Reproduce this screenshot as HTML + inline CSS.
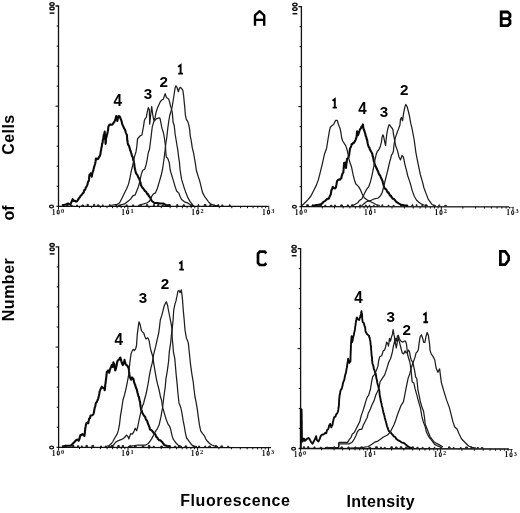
<!DOCTYPE html>
<html><head><meta charset="utf-8"><style>
html,body{margin:0;padding:0;background:#fff;}
body{width:520px;height:513px;overflow:hidden;position:relative;}
svg{position:absolute;left:0;top:0;will-change:transform;}
.tl{font-family:"Liberation Serif",serif;font-weight:bold;font-size:7.5px;fill:#111;}
.sup{font-family:"Liberation Serif",serif;font-weight:bold;font-size:6.3px;fill:#111;}
.nl{font-family:"Liberation Sans",sans-serif;font-weight:bold;font-size:13.6px;fill:#000;}
.big{font-family:"Liberation Sans",sans-serif;font-weight:bold;font-size:16px;fill:#000;}
</style></head><body>
<svg width="520" height="513" viewBox="0 0 520 513">
<rect width="520" height="513" fill="#fff"/>
<path d="M55.5,6.0 H58.5 V206.3" stroke="#111" stroke-width="1.3" fill="none"/>
<path d="M56.7,26.0 H58.5" stroke="#111" stroke-width="1.1"/>
<path d="M56.7,46.1 H58.5" stroke="#111" stroke-width="1.1"/>
<path d="M56.7,66.1 H58.5" stroke="#111" stroke-width="1.1"/>
<path d="M56.7,86.1 H58.5" stroke="#111" stroke-width="1.1"/>
<path d="M55.5,106.2 H58.5" stroke="#111" stroke-width="1.1"/>
<path d="M56.7,126.2 H58.5" stroke="#111" stroke-width="1.1"/>
<path d="M56.7,146.2 H58.5" stroke="#111" stroke-width="1.1"/>
<path d="M56.7,166.2 H58.5" stroke="#111" stroke-width="1.1"/>
<path d="M56.7,186.3 H58.5" stroke="#111" stroke-width="1.1"/>
<path d="M56.5,206.3 L268.8,206.4" stroke="#111" stroke-width="1.3" fill="none"/>
<path d="M79.4,206.3 v1.8" stroke="#111" stroke-width="1"/>
<path d="M91.6,206.3 v1.8" stroke="#111" stroke-width="1"/>
<path d="M100.3,206.3 v1.8" stroke="#111" stroke-width="1"/>
<path d="M107.0,206.3 v1.8" stroke="#111" stroke-width="1"/>
<path d="M112.5,206.3 v1.8" stroke="#111" stroke-width="1"/>
<path d="M117.1,206.3 v1.8" stroke="#111" stroke-width="1"/>
<path d="M121.2,206.3 v1.8" stroke="#111" stroke-width="1"/>
<path d="M124.7,206.3 v1.8" stroke="#111" stroke-width="1"/>
<path d="M149.0,206.3 v1.8" stroke="#111" stroke-width="1"/>
<path d="M161.3,206.3 v1.8" stroke="#111" stroke-width="1"/>
<path d="M170.1,206.4 v1.8" stroke="#111" stroke-width="1"/>
<path d="M176.9,206.4 v1.8" stroke="#111" stroke-width="1"/>
<path d="M182.4,206.4 v1.8" stroke="#111" stroke-width="1"/>
<path d="M187.1,206.4 v1.8" stroke="#111" stroke-width="1"/>
<path d="M191.2,206.4 v1.8" stroke="#111" stroke-width="1"/>
<path d="M194.8,206.4 v1.8" stroke="#111" stroke-width="1"/>
<path d="M219.3,206.4 v1.8" stroke="#111" stroke-width="1"/>
<path d="M231.8,206.4 v1.8" stroke="#111" stroke-width="1"/>
<path d="M240.6,206.4 v1.8" stroke="#111" stroke-width="1"/>
<path d="M247.5,206.4 v1.8" stroke="#111" stroke-width="1"/>
<path d="M253.1,206.4 v1.8" stroke="#111" stroke-width="1"/>
<path d="M257.8,206.4 v1.8" stroke="#111" stroke-width="1"/>
<path d="M261.9,206.4 v1.8" stroke="#111" stroke-width="1"/>
<path d="M265.6,206.4 v1.8" stroke="#111" stroke-width="1"/>
<path d="M58.5,206.3 v3.2" stroke="#111" stroke-width="1"/>
<text x="53.6" y="214.5" class="tl" text-anchor="middle">1</text>
<ellipse cx="58.2" cy="212.0" rx="1.1" ry="2.0" stroke="#111" stroke-width="1.1" fill="none"/>
<text x="62.6" y="212.8" class="sup" text-anchor="middle">0</text>
<path d="M127.9,206.3 v3.2" stroke="#111" stroke-width="1"/>
<text x="123.0" y="214.5" class="tl" text-anchor="middle">1</text>
<ellipse cx="127.6" cy="212.0" rx="1.1" ry="2.0" stroke="#111" stroke-width="1.1" fill="none"/>
<text x="132.0" y="212.8" class="sup" text-anchor="middle">1</text>
<path d="M198.0,206.4 v3.2" stroke="#111" stroke-width="1"/>
<text x="193.1" y="214.6" class="tl" text-anchor="middle">1</text>
<ellipse cx="197.7" cy="212.1" rx="1.1" ry="2.0" stroke="#111" stroke-width="1.1" fill="none"/>
<text x="202.1" y="212.9" class="sup" text-anchor="middle">2</text>
<path d="M268.8,206.4 v3.2" stroke="#111" stroke-width="1"/>
<text x="263.9" y="214.6" class="tl" text-anchor="middle">1</text>
<ellipse cx="268.5" cy="212.1" rx="1.1" ry="2.0" stroke="#111" stroke-width="1.1" fill="none"/>
<text x="272.9" y="212.9" class="sup" text-anchor="middle">3</text>
<ellipse cx="52.0" cy="4.0" rx="2.15" ry="1.4" stroke="#111" stroke-width="1.35" fill="none"/>
<ellipse cx="52.0" cy="8.4" rx="2.15" ry="1.4" stroke="#111" stroke-width="1.35" fill="none"/>
<path d="M49.6,13.1 H54.4" stroke="#111" stroke-width="1.5"/>
<ellipse cx="51.5" cy="206.5" rx="1.95" ry="1.35" stroke="#111" stroke-width="1.3" fill="none"/>
<path d="M298.4,6.6 H301.4 V206.6" stroke="#111" stroke-width="1.3" fill="none"/>
<path d="M299.6,26.6 H301.4" stroke="#111" stroke-width="1.1"/>
<path d="M299.6,46.6 H301.4" stroke="#111" stroke-width="1.1"/>
<path d="M299.6,66.6 H301.4" stroke="#111" stroke-width="1.1"/>
<path d="M299.6,86.6 H301.4" stroke="#111" stroke-width="1.1"/>
<path d="M298.4,106.6 H301.4" stroke="#111" stroke-width="1.1"/>
<path d="M299.6,126.6 H301.4" stroke="#111" stroke-width="1.1"/>
<path d="M299.6,146.6 H301.4" stroke="#111" stroke-width="1.1"/>
<path d="M299.6,166.6 H301.4" stroke="#111" stroke-width="1.1"/>
<path d="M299.6,186.6 H301.4" stroke="#111" stroke-width="1.1"/>
<path d="M299.4,206.6 L513.5,206.8" stroke="#111" stroke-width="1.3" fill="none"/>
<path d="M322.3,206.6 v1.8" stroke="#111" stroke-width="1"/>
<path d="M334.5,206.6 v1.8" stroke="#111" stroke-width="1"/>
<path d="M343.2,206.6 v1.8" stroke="#111" stroke-width="1"/>
<path d="M349.9,206.6 v1.8" stroke="#111" stroke-width="1"/>
<path d="M355.4,206.7 v1.8" stroke="#111" stroke-width="1"/>
<path d="M360.0,206.7 v1.8" stroke="#111" stroke-width="1"/>
<path d="M364.1,206.7 v1.8" stroke="#111" stroke-width="1"/>
<path d="M367.6,206.7 v1.8" stroke="#111" stroke-width="1"/>
<path d="M392.0,206.7 v1.8" stroke="#111" stroke-width="1"/>
<path d="M404.4,206.7 v1.8" stroke="#111" stroke-width="1"/>
<path d="M413.2,206.7 v1.8" stroke="#111" stroke-width="1"/>
<path d="M420.1,206.7 v1.8" stroke="#111" stroke-width="1"/>
<path d="M425.7,206.7 v1.8" stroke="#111" stroke-width="1"/>
<path d="M430.4,206.7 v1.8" stroke="#111" stroke-width="1"/>
<path d="M434.5,206.7 v1.8" stroke="#111" stroke-width="1"/>
<path d="M438.1,206.7 v1.8" stroke="#111" stroke-width="1"/>
<path d="M462.9,206.8 v1.8" stroke="#111" stroke-width="1"/>
<path d="M475.5,206.8 v1.8" stroke="#111" stroke-width="1"/>
<path d="M484.5,206.8 v1.8" stroke="#111" stroke-width="1"/>
<path d="M491.4,206.8 v1.8" stroke="#111" stroke-width="1"/>
<path d="M497.1,206.8 v1.8" stroke="#111" stroke-width="1"/>
<path d="M501.9,206.8 v1.8" stroke="#111" stroke-width="1"/>
<path d="M506.1,206.8 v1.8" stroke="#111" stroke-width="1"/>
<path d="M509.7,206.8 v1.8" stroke="#111" stroke-width="1"/>
<path d="M301.4,206.6 v3.2" stroke="#111" stroke-width="1"/>
<text x="296.5" y="214.8" class="tl" text-anchor="middle">1</text>
<ellipse cx="301.1" cy="212.3" rx="1.1" ry="2.0" stroke="#111" stroke-width="1.1" fill="none"/>
<text x="305.5" y="213.1" class="sup" text-anchor="middle">0</text>
<path d="M370.8,206.7 v3.2" stroke="#111" stroke-width="1"/>
<text x="365.9" y="214.9" class="tl" text-anchor="middle">1</text>
<ellipse cx="370.5" cy="212.4" rx="1.1" ry="2.0" stroke="#111" stroke-width="1.1" fill="none"/>
<text x="374.9" y="213.2" class="sup" text-anchor="middle">1</text>
<path d="M441.3,206.7 v3.2" stroke="#111" stroke-width="1"/>
<text x="436.4" y="214.9" class="tl" text-anchor="middle">1</text>
<ellipse cx="441.0" cy="212.4" rx="1.1" ry="2.0" stroke="#111" stroke-width="1.1" fill="none"/>
<text x="445.4" y="213.2" class="sup" text-anchor="middle">2</text>
<path d="M513.0,206.8 v3.2" stroke="#111" stroke-width="1"/>
<text x="508.1" y="215.0" class="tl" text-anchor="middle">1</text>
<ellipse cx="512.7" cy="212.5" rx="1.1" ry="2.0" stroke="#111" stroke-width="1.1" fill="none"/>
<text x="517.1" y="213.3" class="sup" text-anchor="middle">3</text>
<ellipse cx="294.9" cy="4.6" rx="2.15" ry="1.4" stroke="#111" stroke-width="1.35" fill="none"/>
<ellipse cx="294.9" cy="9.0" rx="2.15" ry="1.4" stroke="#111" stroke-width="1.35" fill="none"/>
<path d="M292.5,13.7 H297.3" stroke="#111" stroke-width="1.5"/>
<ellipse cx="294.4" cy="206.8" rx="1.95" ry="1.35" stroke="#111" stroke-width="1.3" fill="none"/>
<path d="M55.6,246.8 H58.6 V447.3" stroke="#111" stroke-width="1.3" fill="none"/>
<path d="M56.8,266.9 H58.6" stroke="#111" stroke-width="1.1"/>
<path d="M56.8,286.9 H58.6" stroke="#111" stroke-width="1.1"/>
<path d="M56.8,306.9 H58.6" stroke="#111" stroke-width="1.1"/>
<path d="M56.8,327.0 H58.6" stroke="#111" stroke-width="1.1"/>
<path d="M55.6,347.1 H58.6" stroke="#111" stroke-width="1.1"/>
<path d="M56.8,367.1 H58.6" stroke="#111" stroke-width="1.1"/>
<path d="M56.8,387.1 H58.6" stroke="#111" stroke-width="1.1"/>
<path d="M56.8,407.2 H58.6" stroke="#111" stroke-width="1.1"/>
<path d="M56.8,427.2 H58.6" stroke="#111" stroke-width="1.1"/>
<path d="M56.6,447.3 L271.0,447.6" stroke="#111" stroke-width="1.3" fill="none"/>
<path d="M79.5,447.3 v1.8" stroke="#111" stroke-width="1"/>
<path d="M91.7,447.3 v1.8" stroke="#111" stroke-width="1"/>
<path d="M100.4,447.4 v1.8" stroke="#111" stroke-width="1"/>
<path d="M107.1,447.4 v1.8" stroke="#111" stroke-width="1"/>
<path d="M112.6,447.4 v1.8" stroke="#111" stroke-width="1"/>
<path d="M117.2,447.4 v1.8" stroke="#111" stroke-width="1"/>
<path d="M121.3,447.4 v1.8" stroke="#111" stroke-width="1"/>
<path d="M124.8,447.4 v1.8" stroke="#111" stroke-width="1"/>
<path d="M149.0,447.4 v1.8" stroke="#111" stroke-width="1"/>
<path d="M161.2,447.4 v1.8" stroke="#111" stroke-width="1"/>
<path d="M169.9,447.5 v1.8" stroke="#111" stroke-width="1"/>
<path d="M176.6,447.5 v1.8" stroke="#111" stroke-width="1"/>
<path d="M182.2,447.5 v1.8" stroke="#111" stroke-width="1"/>
<path d="M186.8,447.5 v1.8" stroke="#111" stroke-width="1"/>
<path d="M190.9,447.5 v1.8" stroke="#111" stroke-width="1"/>
<path d="M194.4,447.5 v1.8" stroke="#111" stroke-width="1"/>
<path d="M218.9,447.5 v1.8" stroke="#111" stroke-width="1"/>
<path d="M231.4,447.5 v1.8" stroke="#111" stroke-width="1"/>
<path d="M240.3,447.6 v1.8" stroke="#111" stroke-width="1"/>
<path d="M247.2,447.6 v1.8" stroke="#111" stroke-width="1"/>
<path d="M252.8,447.6 v1.8" stroke="#111" stroke-width="1"/>
<path d="M257.5,447.6 v1.8" stroke="#111" stroke-width="1"/>
<path d="M261.6,447.6 v1.8" stroke="#111" stroke-width="1"/>
<path d="M265.3,447.6 v1.8" stroke="#111" stroke-width="1"/>
<path d="M58.6,447.3 v3.2" stroke="#111" stroke-width="1"/>
<text x="53.7" y="455.5" class="tl" text-anchor="middle">1</text>
<ellipse cx="58.3" cy="453.0" rx="1.1" ry="2.0" stroke="#111" stroke-width="1.1" fill="none"/>
<text x="62.7" y="453.8" class="sup" text-anchor="middle">0</text>
<path d="M128.0,447.4 v3.2" stroke="#111" stroke-width="1"/>
<text x="123.1" y="455.6" class="tl" text-anchor="middle">1</text>
<ellipse cx="127.7" cy="453.1" rx="1.1" ry="2.0" stroke="#111" stroke-width="1.1" fill="none"/>
<text x="132.1" y="453.9" class="sup" text-anchor="middle">1</text>
<path d="M197.6,447.5 v3.2" stroke="#111" stroke-width="1"/>
<text x="192.7" y="455.7" class="tl" text-anchor="middle">1</text>
<ellipse cx="197.3" cy="453.2" rx="1.1" ry="2.0" stroke="#111" stroke-width="1.1" fill="none"/>
<text x="201.7" y="454.0" class="sup" text-anchor="middle">2</text>
<path d="M268.5,447.6 v3.2" stroke="#111" stroke-width="1"/>
<text x="263.6" y="455.8" class="tl" text-anchor="middle">1</text>
<ellipse cx="268.2" cy="453.3" rx="1.1" ry="2.0" stroke="#111" stroke-width="1.1" fill="none"/>
<text x="272.6" y="454.1" class="sup" text-anchor="middle">3</text>
<ellipse cx="52.1" cy="244.9" rx="2.15" ry="1.4" stroke="#111" stroke-width="1.35" fill="none"/>
<ellipse cx="52.1" cy="249.2" rx="2.15" ry="1.4" stroke="#111" stroke-width="1.35" fill="none"/>
<path d="M49.7,253.9 H54.5" stroke="#111" stroke-width="1.5"/>
<ellipse cx="51.6" cy="447.5" rx="1.95" ry="1.35" stroke="#111" stroke-width="1.3" fill="none"/>
<path d="M297.6,248.6 H300.6 V448.5" stroke="#111" stroke-width="1.3" fill="none"/>
<path d="M298.8,268.6 H300.6" stroke="#111" stroke-width="1.1"/>
<path d="M298.8,288.6 H300.6" stroke="#111" stroke-width="1.1"/>
<path d="M298.8,308.6 H300.6" stroke="#111" stroke-width="1.1"/>
<path d="M298.8,328.6 H300.6" stroke="#111" stroke-width="1.1"/>
<path d="M297.6,348.6 H300.6" stroke="#111" stroke-width="1.1"/>
<path d="M298.8,368.5 H300.6" stroke="#111" stroke-width="1.1"/>
<path d="M298.8,388.5 H300.6" stroke="#111" stroke-width="1.1"/>
<path d="M298.8,408.5 H300.6" stroke="#111" stroke-width="1.1"/>
<path d="M298.8,428.5 H300.6" stroke="#111" stroke-width="1.1"/>
<path d="M298.6,448.5 L512.6,449.0" stroke="#111" stroke-width="1.3" fill="none"/>
<path d="M321.6,448.5 v1.8" stroke="#111" stroke-width="1"/>
<path d="M334.0,448.6 v1.8" stroke="#111" stroke-width="1"/>
<path d="M342.7,448.6 v1.8" stroke="#111" stroke-width="1"/>
<path d="M349.5,448.6 v1.8" stroke="#111" stroke-width="1"/>
<path d="M355.0,448.6 v1.8" stroke="#111" stroke-width="1"/>
<path d="M359.7,448.6 v1.8" stroke="#111" stroke-width="1"/>
<path d="M363.7,448.6 v1.8" stroke="#111" stroke-width="1"/>
<path d="M367.3,448.7 v1.8" stroke="#111" stroke-width="1"/>
<path d="M391.6,448.7 v1.8" stroke="#111" stroke-width="1"/>
<path d="M403.9,448.7 v1.8" stroke="#111" stroke-width="1"/>
<path d="M412.7,448.8 v1.8" stroke="#111" stroke-width="1"/>
<path d="M419.5,448.8 v1.8" stroke="#111" stroke-width="1"/>
<path d="M425.0,448.8 v1.8" stroke="#111" stroke-width="1"/>
<path d="M429.7,448.8 v1.8" stroke="#111" stroke-width="1"/>
<path d="M433.8,448.8 v1.8" stroke="#111" stroke-width="1"/>
<path d="M437.4,448.8 v1.8" stroke="#111" stroke-width="1"/>
<path d="M461.9,448.9 v1.8" stroke="#111" stroke-width="1"/>
<path d="M474.3,448.9 v1.8" stroke="#111" stroke-width="1"/>
<path d="M483.2,448.9 v1.8" stroke="#111" stroke-width="1"/>
<path d="M490.0,448.9 v1.8" stroke="#111" stroke-width="1"/>
<path d="M495.6,449.0 v1.8" stroke="#111" stroke-width="1"/>
<path d="M500.3,449.0 v1.8" stroke="#111" stroke-width="1"/>
<path d="M504.4,449.0 v1.8" stroke="#111" stroke-width="1"/>
<path d="M508.1,449.0 v1.8" stroke="#111" stroke-width="1"/>
<path d="M300.6,448.5 v3.2" stroke="#111" stroke-width="1"/>
<text x="295.7" y="456.7" class="tl" text-anchor="middle">1</text>
<ellipse cx="300.3" cy="454.2" rx="1.1" ry="2.0" stroke="#111" stroke-width="1.1" fill="none"/>
<text x="304.7" y="455.0" class="sup" text-anchor="middle">0</text>
<path d="M370.5,448.7 v3.2" stroke="#111" stroke-width="1"/>
<text x="365.6" y="456.9" class="tl" text-anchor="middle">1</text>
<ellipse cx="370.2" cy="454.4" rx="1.1" ry="2.0" stroke="#111" stroke-width="1.1" fill="none"/>
<text x="374.6" y="455.2" class="sup" text-anchor="middle">1</text>
<path d="M440.6,448.8 v3.2" stroke="#111" stroke-width="1"/>
<text x="435.7" y="457.0" class="tl" text-anchor="middle">1</text>
<ellipse cx="440.3" cy="454.5" rx="1.1" ry="2.0" stroke="#111" stroke-width="1.1" fill="none"/>
<text x="444.7" y="455.3" class="sup" text-anchor="middle">2</text>
<path d="M511.3,449.0 v3.2" stroke="#111" stroke-width="1"/>
<text x="506.4" y="457.2" class="tl" text-anchor="middle">1</text>
<ellipse cx="511.0" cy="454.7" rx="1.1" ry="2.0" stroke="#111" stroke-width="1.1" fill="none"/>
<text x="515.4" y="455.5" class="sup" text-anchor="middle">3</text>
<ellipse cx="294.1" cy="246.7" rx="2.15" ry="1.4" stroke="#111" stroke-width="1.35" fill="none"/>
<ellipse cx="294.1" cy="251.0" rx="2.15" ry="1.4" stroke="#111" stroke-width="1.35" fill="none"/>
<path d="M291.7,255.7 H296.5" stroke="#111" stroke-width="1.5"/>
<ellipse cx="293.6" cy="448.7" rx="1.95" ry="1.35" stroke="#111" stroke-width="1.3" fill="none"/>
<path d="M63.0,205.9 V204.6 H63.9 V205.9 M66.7,205.9 V204.8 H68.1 V205.9 M70.8,205.9 V205.1 H72.2 V205.9 M76.6,205.9 V205.0 H77.5 V205.9 M81.9,205.9 V205.0 H83.5 V205.9 M87.0,205.9 V204.4 H88.4 V205.9 M93.5,205.9 V204.3 H94.7 V205.9 M97.4,205.9 V204.9 H99.1 V205.9 M102.3,205.9 V204.9 H103.2 V205.9 M109.3,205.9 V204.7 H110.3 V205.9 M115.7,205.9 V204.7 H116.9 V205.9 M119.7,205.9 V205.0 H120.5 V205.9 M126.1,205.9 V204.9 H127.3 V205.9 M132.4,205.9 V204.9 H133.7 V205.9 M139.8,205.9 V204.9 H141.3 V205.9 M146.4,205.9 V204.4 H147.7 V205.9 M153.5,205.9 V204.4 H154.5 V205.9 M157.6,205.9 V204.5 H158.8 V205.9 M162.0,205.9 V205.1 H163.3 V205.9 M168.8,206.0 V204.7 H170.3 V206.0 M176.8,206.0 V204.6 H177.9 V206.0 M183.1,206.0 V204.8 H184.4 V206.0 M190.7,206.0 V204.8 H192.5 V206.0 M198.0,206.0 V204.6 H198.8 V206.0 M204.2,206.0 V204.5 H206.0 V206.0 M209.8,206.0 V204.6 H211.0 V206.0 M213.6,206.0 V205.0 H214.9 V206.0 M217.9,206.0 V204.6 H218.7 V206.0 M221.8,206.0 V204.9 H222.9 V206.0 M229.3,206.0 V204.8 H230.2 V206.0" stroke="#222" stroke-width="1.0" fill="#222"/>
<path d="M306.7,206.2 V204.7 H308.3 V206.2 M312.0,206.2 V205.1 H313.2 V206.2 M319.7,206.2 V205.3 H321.5 V206.2 M324.8,206.2 V205.2 H325.8 V206.2 M330.5,206.2 V205.2 H331.9 V206.2 M334.4,206.2 V205.1 H335.6 V206.2 M340.7,206.2 V204.9 H342.4 V206.2 M347.2,206.2 V204.9 H348.6 V206.2 M351.4,206.2 V204.8 H353.1 V206.2 M359.5,206.3 V205.1 H361.1 V206.3 M365.4,206.3 V205.0 H366.3 V206.3 M369.1,206.3 V205.3 H370.0 V206.3 M373.2,206.3 V205.4 H374.3 V206.3 M376.8,206.3 V205.4 H377.8 V206.3 M381.9,206.3 V204.8 H382.8 V206.3 M388.0,206.3 V205.3 H389.0 V206.3 M393.0,206.3 V205.4 H394.2 V206.3 M400.5,206.3 V205.1 H402.3 V206.3 M407.0,206.3 V205.4 H407.9 V206.3 M411.9,206.3 V204.8 H413.0 V206.3 M416.2,206.3 V204.7 H417.0 V206.3 M421.9,206.3 V205.1 H422.8 V206.3 M425.5,206.3 V204.7 H426.8 V206.3 M433.2,206.3 V205.3 H434.7 V206.3 M438.8,206.3 V204.9 H439.8 V206.3 M444.7,206.3 V205.3 H446.3 V206.3" stroke="#222" stroke-width="1.0" fill="#222"/>
<path d="M64.4,446.9 V445.4 H66.2 V446.9 M72.3,446.9 V445.5 H74.0 V446.9 M77.5,446.9 V445.8 H78.8 V446.9 M81.4,446.9 V445.9 H82.3 V446.9 M85.9,446.9 V445.4 H87.4 V446.9 M91.9,446.9 V445.4 H93.7 V446.9 M100.5,447.0 V446.0 H101.6 V447.0 M105.2,447.0 V446.0 H106.1 V447.0 M111.5,447.0 V445.5 H113.2 V447.0 M117.8,447.0 V445.5 H119.3 V447.0 M122.2,447.0 V445.5 H123.6 V447.0 M129.6,447.0 V445.8 H131.2 V447.0 M134.5,447.0 V445.9 H136.1 V447.0 M142.2,447.0 V445.9 H143.9 V447.0 M148.3,447.0 V445.6 H150.0 V447.0 M153.3,447.0 V446.1 H154.2 V447.0 M160.8,447.0 V446.1 H162.4 V447.0 M168.6,447.1 V445.7 H170.4 V447.1 M174.4,447.1 V446.2 H175.8 V447.1 M178.4,447.1 V445.7 H180.1 V447.1 M185.0,447.1 V445.9 H186.7 V447.1 M193.2,447.1 V446.1 H194.8 V447.1 M198.4,447.1 V446.1 H199.5 V447.1 M204.7,447.1 V446.0 H205.7 V447.1 M208.8,447.1 V446.0 H210.5 V447.1 M215.1,447.1 V445.6 H216.5 V447.1 M220.8,447.1 V445.9 H222.6 V447.1 M227.5,447.1 V446.3 H228.8 V447.1" stroke="#222" stroke-width="1.0" fill="#222"/>
<path d="M303.5,448.1 V446.7 H304.4 V448.1 M307.6,448.1 V446.7 H308.9 V448.1 M313.9,448.1 V446.9 H315.0 V448.1 M320.0,448.1 V447.3 H321.6 V448.1 M326.6,448.2 V447.1 H327.7 V448.2 M333.7,448.2 V446.9 H335.0 V448.2 M340.9,448.2 V447.0 H342.6 V448.2 M347.9,448.2 V447.0 H349.2 V448.2 M354.8,448.2 V447.0 H356.0 V448.2 M360.7,448.2 V446.9 H362.4 V448.2 M368.9,448.3 V447.3 H370.6 V448.3 M375.6,448.3 V446.8 H377.4 V448.3 M380.5,448.3 V447.1 H381.4 V448.3 M384.2,448.3 V447.4 H385.3 V448.3 M390.8,448.3 V446.8 H392.4 V448.3 M395.6,448.3 V447.0 H397.1 V448.3 M400.2,448.3 V446.8 H401.9 V448.3 M405.4,448.3 V447.2 H407.2 V448.3 M411.8,448.4 V446.9 H413.6 V448.4 M416.9,448.4 V447.2 H418.1 V448.4 M422.1,448.4 V447.3 H423.1 V448.4 M428.9,448.4 V447.2 H429.7 V448.4 M434.2,448.4 V447.3 H435.0 V448.4 M440.3,448.4 V447.6 H441.6 V448.4 M448.5,448.4 V446.9 H450.1 V448.4 M453.1,448.5 V447.6 H454.2 V448.5 M460.2,448.5 V447.6 H461.2 V448.5 M465.6,448.5 V447.0 H467.4 V448.5 M471.0,448.5 V447.0 H472.0 V448.5 M477.0,448.5 V447.6 H478.5 V448.5 M481.3,448.5 V447.4 H482.8 V448.5" stroke="#222" stroke-width="1.0" fill="#222"/>
<path d="M62.0,205.5 L63.3,205.1 L64.5,204.8 L65.8,204.4 L66.9,204.0 L68.1,203.6 L69.2,204.0 L70.4,204.4 L71.0,203.1 L71.6,201.8 L72.1,200.5 L72.7,199.2 L73.2,200.0 L73.8,201.0 L75.0,200.7 L76.1,201.6 L77.3,201.0 L77.9,199.9 L78.4,199.1 L79.0,198.1 L79.8,197.2 L80.5,195.9 L81.3,195.2 L82.2,194.3 L83.1,192.9 L83.7,192.6 L84.2,190.3 L84.8,190.0 L85.4,188.9 L85.9,187.3 L86.5,186.8 L87.1,185.4 L87.5,184.4 L87.9,182.4 L88.4,181.3 L88.8,180.8 L89.0,179.4 L89.1,178.5 L89.2,176.9 L89.4,175.0 L90.0,174.7 L90.6,173.3 L91.0,173.9 L91.3,175.3 L91.7,176.7 L92.0,175.5 L92.3,173.9 L92.6,172.4 L92.9,171.5 L93.3,170.8 L93.6,169.0 L94.0,167.5 L94.4,166.0 L94.8,164.8 L95.2,163.5 L95.4,162.6 L95.6,161.4 L95.7,160.2 L95.9,158.5 L96.7,158.5 L97.4,159.1 L98.3,158.7 L99.2,156.8 L99.8,156.0 L100.4,154.4 L100.6,152.6 L100.8,151.1 L101.1,150.1 L101.3,148.4 L101.5,147.4 L101.8,146.6 L102.1,143.7 L102.4,143.6 L102.7,141.6 L102.9,139.7 L103.2,139.3 L103.4,137.3 L103.7,135.4 L103.9,134.6 L104.3,133.9 L104.7,131.6 L104.8,133.0 L104.9,135.4 L105.0,135.9 L105.2,137.3 L105.3,139.4 L105.4,140.3 L105.5,142.5 L105.6,143.9 L105.8,142.8 L105.9,141.2 L106.0,138.7 L106.2,138.0 L106.6,136.7 L107.0,134.6 L107.4,133.4 L107.6,131.9 L107.8,131.2 L108.1,129.8 L108.3,127.2 L108.5,126.4 L109.4,124.7 L110.3,124.4 L111.4,124.8 L112.5,124.4 L113.2,123.2 L114.0,122.5 L114.7,121.0 L115.1,120.0 L115.5,119.3 L115.8,117.8 L116.2,116.0 L116.5,118.0 L116.8,119.1 L117.0,119.9 L117.3,121.0 L117.6,119.6 L117.9,118.0 L118.3,117.8 L118.6,116.0 L119.7,116.5 L120.2,117.6 L120.6,118.7 L121.1,119.8 L121.5,121.0 L121.9,122.6 L122.3,124.4 L122.9,125.6 L123.5,126.8 L124.0,128.2 L124.6,129.1 L125.0,130.0 L125.4,130.9 L125.8,132.6 L126.4,134.0 L127.0,135.0 L127.0,137.0 L127.1,137.6 L127.2,139.5 L127.2,140.0 L127.5,140.7 L127.7,142.9 L127.9,143.7 L128.2,144.9 L128.7,145.1 L129.1,146.3 L129.6,147.8 L130.0,149.4 L130.3,150.8 L130.7,150.9 L131.1,152.7 L131.6,154.3 L132.0,155.9 L132.5,156.6 L132.9,157.6 L133.2,160.0 L133.6,160.4 L134.0,162.4 L134.2,163.2 L134.4,165.6 L134.6,167.1 L134.8,168.2 L135.0,169.2 L135.3,170.5 L135.7,172.0 L136.0,173.1 L136.7,174.2 L137.4,175.1 L137.9,176.2 L138.4,177.7 L138.9,178.0 L139.4,179.4 L139.9,180.9 L140.3,182.0 L140.6,183.3 L141.0,185.2 L141.6,186.2 L142.3,187.6 L142.9,188.1 L143.5,188.9 L144.2,189.7 L144.8,191.0 L145.8,191.4 L146.7,192.9 L147.4,194.2 L148.0,194.0 L148.7,195.8 L149.3,196.5 L150.0,197.2 L150.6,198.7 L151.2,200.0 L151.9,200.9 L152.5,201.5 L153.4,202.2 L154.4,203.0 L155.9,203.0 L157.3,203.0 L158.8,203.2 L160.2,203.5 L161.6,203.5 L163.1,203.5 L164.1,204.0 L165.0,204.5 L166.0,205.0 L167.3,205.2 L168.7,205.3 L170.0,205.5" stroke="#0a0a0a" stroke-width="2.1" fill="none" stroke-linejoin="round"/>
<path d="M110.0,205.5 L116.9,204.4 L118.8,203.5 L120.3,201.5 L122.2,197.7 L124.1,193.8 L126.5,189.0 L128.5,184.2 L129.9,178.5 L131.3,170.8 L132.8,165.0 L134.5,156.6 L136.0,151.7 L136.9,145.8 L137.5,139.0 L139.8,136.1 L141.9,135.0 L143.4,127.2 L144.4,120.3 L145.4,118.4 L146.3,117.4 L147.3,111.6 L148.3,107.7 L149.3,109.6 L149.7,124.2 L150.7,114.5 L151.7,106.7 L152.7,114.5 L153.6,119.4 L154.6,120.8 L156.1,118.9 L157.5,118.4 L159.0,117.9 L160.0,118.4 L161.0,123.3 L161.9,128.1 L163.4,132.5 L164.4,138.0 L165.4,145.3 L165.8,152.2 L166.3,157.0 L167.8,158.5 L169.3,162.9 L170.2,170.0 L170.8,172.2 L173.0,179.4 L175.1,186.6 L176.6,191.0 L178.8,193.1 L180.2,196.7 L181.6,199.6 L184.5,201.8 L188.1,203.2 L190.3,204.7 L192.5,206.0" stroke="#1e1e1e" stroke-width="1.25" fill="none" stroke-linejoin="round"/>
<path d="M118.0,205.5 L122.7,204.4 L124.6,203.9 L127.0,202.0 L128.9,200.6 L130.9,198.7 L132.8,195.8 L135.2,194.8 L137.1,190.0 L138.5,186.5 L139.4,182.9 L140.3,179.0 L141.3,174.1 L142.8,170.2 L144.7,169.2 L146.2,164.4 L147.2,159.5 L148.1,153.6 L149.6,148.8 L150.3,143.0 L151.2,135.9 L152.2,127.2 L153.6,122.3 L155.1,117.4 L156.1,112.1 L157.5,108.0 L158.9,104.8 L160.4,101.6 L161.8,100.0 L163.3,99.3 L164.3,96.1 L165.2,93.6 L166.2,97.0 L167.2,98.0 L168.6,99.0 L169.6,101.9 L170.4,105.7 L171.4,108.6 L172.2,112.1 L172.7,117.4 L173.1,122.3 L174.1,125.2 L174.6,128.8 L175.1,134.0 L176.1,140.0 L177.0,145.5 L177.8,150.0 L178.5,156.1 L179.5,162.9 L180.1,170.0 L181.6,179.4 L183.8,186.6 L186.0,193.1 L188.1,198.2 L190.3,201.8 L192.5,204.7 L194.0,206.0" stroke="#1e1e1e" stroke-width="1.25" fill="none" stroke-linejoin="round"/>
<path d="M138.0,205.5 L143.8,203.9 L146.7,203.0 L149.1,201.5 L150.6,199.6 L152.0,195.8 L153.5,193.8 L155.4,192.9 L157.3,188.5 L159.2,182.1 L161.2,175.3 L162.6,169.0 L163.2,164.5 L163.9,160.0 L164.9,152.2 L165.8,143.5 L166.8,137.5 L167.8,128.1 L168.8,121.0 L169.7,115.5 L171.2,110.6 L172.2,106.7 L173.1,101.0 L174.1,94.5 L175.0,88.3 L176.0,85.8 L176.9,87.3 L178.4,91.7 L179.4,88.3 L180.3,87.3 L181.8,88.8 L182.8,90.2 L183.6,95.5 L184.2,101.9 L184.8,107.5 L185.3,114.5 L186.3,119.4 L187.8,121.6 L188.8,124.9 L189.7,129.7 L190.2,135.6 L191.2,140.5 L192.2,147.3 L193.6,153.1 L194.6,159.0 L195.6,164.8 L196.3,170.0 L198.2,176.5 L199.7,180.9 L201.1,186.6 L202.5,192.4 L204.7,196.7 L206.9,199.6 L209.0,202.5 L211.9,204.7 L214.8,205.4 L218.0,205.7" stroke="#1e1e1e" stroke-width="1.25" fill="none" stroke-linejoin="round"/>
<path d="M312.0,205.8 L313.4,205.6 L314.9,205.4 L316.4,205.1 L317.8,204.9 L318.9,204.7 L320.1,204.4 L321.2,204.2 L322.2,203.2 L323.2,202.2 L324.1,201.5 L325.1,200.8 L326.0,200.1 L327.4,198.7 L328.7,198.7 L329.4,197.2 L330.0,195.6 L330.7,194.6 L331.0,193.0 L331.2,191.1 L331.5,190.0 L331.9,189.5 L332.4,188.0 L332.8,186.8 L333.6,187.9 L334.4,188.2 L335.1,188.5 L335.9,187.4 L336.2,185.8 L336.5,184.2 L336.8,182.2 L337.1,181.2 L337.9,180.0 L339.0,179.6 L339.8,179.7 L340.6,178.8 L341.4,178.1 L341.6,176.3 L341.9,175.7 L342.1,174.9 L342.7,173.2 L343.3,172.6 L343.4,171.4 L343.6,169.4 L343.7,167.9 L343.8,166.7 L343.9,165.4 L344.0,164.7 L344.1,162.9 L345.3,162.5 L345.5,164.6 L345.6,165.0 L345.8,167.2 L346.0,167.9 L346.1,166.7 L346.3,165.1 L346.4,163.2 L346.7,162.4 L346.9,159.7 L347.2,158.6 L348.4,157.8 L348.7,156.5 L348.9,155.7 L349.2,154.7 L349.4,152.8 L349.6,151.6 L349.8,150.1 L350.0,148.7 L350.2,148.0 L350.7,147.3 L351.2,146.1 L351.7,144.0 L352.4,144.1 L353.2,142.9 L353.9,142.9 L354.6,141.9 L355.1,140.8 L355.6,140.0 L356.1,138.2 L356.6,137.0 L356.7,135.4 L356.9,133.3 L357.0,132.0 L357.1,131.2 L357.4,132.5 L357.7,133.7 L358.0,135.1 L358.5,133.9 L359.0,132.2 L359.5,130.8 L360.0,129.2 L361.0,128.3 L361.4,126.7 L361.9,126.3 L362.4,125.9 L362.9,124.4 L363.1,125.6 L363.2,127.0 L363.4,128.3 L363.9,129.5 L364.4,131.2 L364.9,132.4 L365.3,134.1 L365.8,136.2 L366.3,137.0 L366.6,139.1 L367.0,139.2 L367.3,141.0 L367.6,143.2 L368.0,144.6 L368.3,145.6 L368.9,147.3 L369.4,147.6 L369.9,149.8 L370.5,150.3 L371.0,151.5 L371.5,152.3 L372.0,153.4 L372.3,153.9 L372.6,155.9 L373.0,156.7 L373.3,158.1 L373.6,159.7 L373.9,161.5 L374.2,161.9 L374.6,163.9 L374.9,164.4 L375.2,165.9 L375.8,166.5 L376.4,168.1 L376.9,168.9 L377.5,170.6 L378.1,171.2 L378.6,173.2 L379.2,174.4 L379.8,175.3 L380.3,175.8 L380.9,177.7 L381.4,178.4 L381.8,179.6 L382.2,180.1 L382.6,181.3 L383.0,183.1 L383.4,184.6 L383.8,186.1 L384.1,187.1 L384.5,187.8 L385.3,189.0 L386.1,189.2 L386.9,190.9 L387.7,192.4 L388.4,192.3 L389.2,194.1 L390.0,195.6 L390.8,195.5 L391.6,197.2 L392.8,198.8 L393.9,198.8 L394.7,199.8 L395.5,200.9 L396.3,201.9 L397.5,202.7 L398.6,203.4 L399.6,203.9 L400.5,204.5 L401.7,204.8 L403.0,205.0 L404.2,205.3 L405.5,205.5 L406.7,205.6 L408.0,205.8" stroke="#0a0a0a" stroke-width="2.1" fill="none" stroke-linejoin="round"/>
<path d="M352.0,206.0 L357.8,202.8 L359.1,200.8 L361.9,198.7 L363.2,196.0 L365.0,192.5 L366.6,189.4 L368.9,186.3 L370.5,181.6 L372.0,175.3 L373.6,167.5 L375.1,159.0 L376.2,154.3 L377.4,151.2 L378.6,150.0 L379.7,148.1 L380.5,145.7 L381.3,142.6 L382.1,137.1 L382.9,134.8 L383.6,136.4 L384.4,140.3 L385.2,144.2 L385.6,145.7 L386.0,141.0 L386.8,134.0 L387.5,130.1 L388.3,127.0 L389.1,124.7 L389.9,125.1 L391.0,127.0 L392.2,128.2 L393.0,130.1 L393.4,134.0 L394.2,137.9 L394.9,141.8 L395.7,145.7 L397.6,151.1 L399.0,157.0 L400.5,159.9 L402.0,155.5 L403.4,157.0 L404.9,164.3 L406.4,170.1 L407.8,176.0 L409.3,180.4 L410.7,184.8 L412.2,190.6 L414.4,196.5 L416.6,200.2 L418.8,202.3 L421.0,203.8 L423.9,205.0 L428.0,206.0" stroke="#1e1e1e" stroke-width="1.25" fill="none" stroke-linejoin="round"/>
<path d="M362.0,205.5 L366.0,202.0 L368.1,201.1 L371.3,200.3 L374.4,198.8 L378.3,198.0 L380.6,195.6 L382.2,192.5 L383.8,186.3 L385.3,180.0 L386.9,173.8 L388.4,167.5 L389.8,161.3 L390.7,158.5 L391.4,155.1 L392.6,153.5 L393.4,151.2 L393.8,146.5 L394.6,141.0 L395.3,137.9 L396.1,135.6 L396.9,133.2 L397.7,130.9 L398.4,129.4 L399.2,127.0 L400.0,124.7 L400.4,119.7 L401.4,117.4 L402.5,120.9 L403.7,112.7 L404.9,106.9 L405.8,104.5 L407.2,106.9 L408.4,111.5 L409.5,116.2 L410.7,123.2 L411.9,127.9 L413.0,133.7 L414.2,140.0 L415.9,152.6 L417.3,159.9 L418.8,167.2 L420.3,174.5 L422.5,181.9 L423.9,187.7 L426.1,193.6 L428.3,199.4 L430.5,202.3 L432.0,204.5 L436.0,206.0" stroke="#1e1e1e" stroke-width="1.25" fill="none" stroke-linejoin="round"/>
<path d="M301.5,206.0 L303.4,204.2 L305.5,202.2 L308.2,199.4 L310.9,196.0 L313.7,190.5 L316.4,185.1 L318.4,179.6 L320.5,171.4 L322.5,163.2 L324.6,153.7 L326.6,148.2 L327.6,142.0 L328.4,136.9 L329.4,131.1 L330.3,127.2 L331.8,125.7 L333.3,124.7 L334.2,123.3 L335.7,120.3 L337.2,120.3 L338.1,123.3 L339.1,126.2 L340.1,128.6 L341.0,133.0 L341.7,138.0 L342.7,141.0 L344.0,143.0 L345.7,145.6 L347.3,150.5 L348.9,159.1 L350.2,163.2 L351.6,167.3 L353.0,174.2 L354.3,179.6 L355.7,183.7 L358.4,186.4 L360.5,189.9 L361.9,193.3 L363.2,196.0 L364.6,198.1 L367.3,200.1 L370.1,201.5 L372.8,202.8 L376.0,204.5 L380.0,205.5" stroke="#1e1e1e" stroke-width="1.25" fill="none" stroke-linejoin="round"/>
<path d="M62.0,446.5 L63.3,446.2 L64.6,446.0 L65.9,445.7 L67.5,445.7 L69.1,445.7 L70.7,445.7 L71.7,444.7 L72.7,443.8 L73.7,442.8 L74.7,441.8 L75.6,440.8 L76.6,439.8 L77.6,439.6 L78.6,440.8 L79.1,439.8 L79.5,438.7 L80.0,436.3 L80.5,435.0 L81.5,435.2 L82.5,434.0 L83.5,434.9 L84.4,436.0 L84.6,434.6 L84.8,433.5 L85.0,430.8 L85.2,428.9 L85.4,428.1 L85.7,426.4 L85.9,424.9 L86.2,424.3 L86.4,423.2 L87.3,422.6 L88.3,423.2 L88.5,421.4 L88.8,420.5 L89.0,419.4 L89.3,418.4 L90.0,418.0 L90.6,415.6 L91.3,415.4 L92.2,415.2 L93.2,414.5 L93.5,413.8 L93.9,412.2 L94.2,410.5 L94.5,408.7 L94.9,407.3 L95.2,406.6 L95.5,405.1 L95.8,403.2 L96.1,402.7 L96.8,402.2 L97.4,400.5 L98.1,398.8 L98.4,397.9 L98.7,396.3 L99.0,395.5 L99.4,393.2 L99.7,391.2 L100.0,390.6 L100.6,389.1 L101.2,387.9 L101.8,386.7 L102.7,387.8 L103.5,387.9 L104.1,388.3 L104.7,390.2 L104.9,389.2 L105.1,386.9 L105.2,384.8 L105.4,384.2 L105.6,383.0 L105.8,380.9 L106.0,379.5 L106.2,378.1 L106.4,376.1 L106.6,374.5 L106.8,372.3 L107.0,371.5 L107.6,371.5 L108.2,370.4 L108.8,371.7 L109.3,372.7 L109.6,370.9 L109.9,369.9 L110.2,369.2 L110.5,368.0 L111.1,366.9 L111.7,365.1 L112.3,366.7 L112.9,366.9 L113.1,365.2 L113.2,363.8 L113.4,362.2 L113.8,363.7 L114.2,363.8 L114.6,365.7 L114.8,368.0 L115.0,368.6 L115.2,370.4 L115.6,369.8 L116.0,368.3 L116.4,366.3 L116.7,365.5 L117.0,363.1 L117.2,362.3 L117.5,361.0 L118.4,360.1 L119.3,359.3 L119.8,358.1 L120.4,357.5 L120.7,358.6 L121.0,359.5 L121.3,361.2 L121.6,362.2 L122.2,364.0 L122.8,365.1 L123.3,363.9 L123.9,362.2 L124.2,361.5 L124.5,359.9 L124.9,361.9 L125.3,362.7 L125.7,364.5 L126.6,365.3 L127.5,365.7 L128.1,367.3 L128.6,368.0 L128.8,368.9 L129.0,371.4 L129.2,372.7 L129.4,374.2 L129.6,375.3 L129.8,377.4 L130.4,378.2 L131.0,379.7 L131.6,379.0 L132.1,377.4 L132.7,378.3 L133.3,378.6 L133.7,380.2 L134.1,382.3 L134.5,383.2 L134.9,384.5 L135.2,384.8 L135.6,386.7 L136.2,388.3 L136.8,389.5 L137.1,390.8 L137.4,392.5 L137.7,393.4 L138.0,394.5 L138.4,396.4 L138.9,396.8 L139.3,399.0 L139.6,400.6 L139.8,401.1 L140.1,402.2 L140.3,404.0 L140.5,406.0 L140.8,407.6 L141.0,408.7 L141.4,410.6 L141.8,410.8 L142.3,412.9 L142.7,413.4 L143.5,414.8 L144.3,416.0 L145.1,416.9 L145.7,418.6 L146.2,419.8 L146.8,420.4 L147.2,420.9 L147.7,422.9 L148.2,424.1 L148.6,425.1 L149.1,426.5 L149.5,427.2 L149.9,429.4 L150.4,429.8 L151.6,430.2 L152.7,431.5 L153.6,432.9 L154.4,433.3 L155.0,434.0 L155.6,435.0 L156.2,436.8 L157.1,437.3 L158.0,439.1 L159.2,440.3 L160.3,440.3 L161.1,441.1 L161.8,441.8 L162.6,442.6 L163.5,443.8 L164.4,445.0 L165.9,445.6 L167.3,446.1 L168.7,446.3 L170.0,446.5" stroke="#0a0a0a" stroke-width="2.1" fill="none" stroke-linejoin="round"/>
<path d="M106.0,446.5 L109.0,445.5 L111.2,443.8 L112.9,441.5 L114.7,438.0 L117.0,434.4 L118.2,430.9 L119.4,425.1 L120.5,415.7 L121.7,408.7 L123.0,400.0 L124.5,394.9 L125.7,390.2 L126.9,384.4 L128.0,378.6 L128.6,375.0 L129.2,369.2 L129.8,363.4 L130.4,358.7 L131.0,354.0 L132.1,351.1 L133.3,349.3 L134.5,350.5 L135.6,348.8 L136.5,345.5 L137.3,334.1 L138.4,325.9 L139.0,321.8 L140.2,324.7 L141.4,330.6 L142.5,331.9 L143.7,333.0 L144.9,336.5 L146.0,338.9 L147.8,337.8 L149.2,341.0 L149.8,345.0 L150.9,350.5 L153.0,357.3 L153.6,362.7 L155.0,370.9 L156.4,379.1 L157.7,384.6 L159.1,390.0 L160.5,396.8 L161.5,400.0 L162.6,407.5 L164.4,413.4 L166.1,419.2 L167.9,423.9 L169.6,426.3 L170.8,429.8 L172.0,435.6 L173.2,439.1 L174.9,441.5 L176.7,443.8 L179.0,445.9 L182.0,446.5" stroke="#1e1e1e" stroke-width="1.25" fill="none" stroke-linejoin="round"/>
<path d="M108.0,446.5 L111.8,446.1 L113.5,445.0 L115.3,442.6 L117.6,440.9 L119.1,440.4 L121.6,439.4 L123.5,438.5 L125.4,436.5 L126.4,435.1 L127.9,436.5 L128.9,438.9 L129.8,436.0 L130.8,433.6 L132.3,434.1 L133.7,432.1 L135.2,428.2 L136.6,430.7 L137.6,427.3 L138.6,422.4 L139.6,417.5 L140.5,413.6 L141.5,409.7 L142.5,405.8 L143.5,403.9 L144.4,400.0 L145.8,395.0 L146.9,390.0 L148.2,383.2 L149.5,375.0 L150.9,368.2 L152.3,362.7 L153.6,354.6 L155.7,346.4 L157.5,338.2 L158.7,333.0 L159.5,327.1 L160.3,320.0 L161.8,315.4 L163.0,310.7 L164.2,306.0 L165.3,303.5 L166.3,301.7 L167.5,305.0 L168.6,311.0 L169.8,317.0 L171.1,323.6 L171.7,327.1 L172.0,330.0 L172.2,338.0 L172.9,345.0 L173.4,351.8 L174.8,358.6 L175.5,366.8 L176.2,375.0 L177.2,384.6 L178.0,394.0 L179.0,402.9 L180.8,407.5 L182.0,413.4 L183.1,420.4 L184.3,426.3 L185.5,433.3 L186.6,438.0 L188.4,440.3 L190.1,442.6 L191.9,445.0 L193.7,446.1 L197.0,446.5" stroke="#1e1e1e" stroke-width="1.25" fill="none" stroke-linejoin="round"/>
<path d="M128.0,446.5 L134.6,445.6 L138.1,445.0 L141.6,445.0 L145.7,445.0 L148.0,443.8 L149.8,441.5 L151.5,439.1 L153.3,435.6 L155.0,432.1 L157.4,428.6 L159.1,425.1 L160.9,416.9 L162.6,407.5 L163.5,400.0 L164.5,392.0 L165.2,387.3 L165.9,379.1 L167.3,370.9 L168.6,361.4 L169.3,351.8 L170.7,342.3 L171.4,335.0 L172.3,328.0 L173.1,320.0 L173.7,310.2 L174.9,304.4 L176.0,300.9 L177.2,295.0 L177.8,291.5 L179.0,290.4 L180.1,292.7 L181.3,289.8 L181.9,293.9 L182.5,299.7 L183.0,306.7 L183.6,313.7 L184.2,320.0 L185.0,330.0 L186.4,338.2 L187.7,340.9 L188.4,343.6 L189.1,350.5 L189.8,357.3 L190.5,364.1 L191.8,373.6 L193.2,381.8 L194.1,390.0 L195.0,397.0 L196.0,401.7 L197.2,408.7 L198.3,416.9 L199.5,425.1 L200.7,430.9 L202.4,433.3 L204.2,435.6 L205.9,439.1 L207.7,441.5 L209.4,443.2 L211.8,445.0 L214.1,445.9 L218.0,446.5" stroke="#1e1e1e" stroke-width="1.25" fill="none" stroke-linejoin="round"/>
<path d="M300.8,448.0 L300.8,446.4 L300.8,444.9 L300.8,443.3 L300.8,441.8 L300.8,440.2 L300.8,438.6 L300.8,437.1 L300.8,435.5 L300.8,434.0 L300.8,432.4 L300.8,430.8 L300.8,429.3 L300.8,427.7 L300.8,426.2 L300.8,424.6 L300.8,423.0 L300.8,421.5 L300.8,419.9 L300.8,418.4 L300.8,416.8 L300.8,415.2 L300.8,413.7 L300.8,412.1 L300.8,410.6 L300.8,409.0 L301.6,409.5 L301.6,411.4 L301.6,413.3 L301.7,414.5 L301.7,416.2 L301.7,416.5 L301.7,418.8 L301.7,420.1 L301.8,421.3 L301.8,423.8 L301.8,424.5 L301.8,427.0 L301.8,427.6 L301.8,429.4 L301.9,431.3 L301.9,432.8 L301.9,433.1 L301.9,435.8 L301.9,436.3 L302.0,438.2 L302.0,439.3 L302.0,441.5 L302.6,441.5 L303.0,440.7 L303.4,439.0 L303.8,438.5 L304.4,439.2 L304.9,440.9 L305.8,440.0 L306.7,439.1 L307.6,438.4 L308.5,438.0 L309.6,439.1 L310.2,440.4 L310.8,441.5 L311.6,442.6 L312.5,443.8 L313.1,442.6 L313.7,441.5 L314.3,440.3 L314.9,439.1 L315.5,438.0 L316.1,436.2 L316.5,438.2 L316.8,439.7 L317.2,440.3 L317.8,441.0 L318.4,441.5 L319.0,440.5 L319.6,439.1 L320.1,437.8 L320.7,436.2 L321.6,435.1 L322.5,434.4 L323.4,434.6 L324.2,433.9 L325.1,433.0 L326.0,433.3 L326.4,432.8 L326.8,430.9 L327.2,429.8 L327.8,429.6 L328.3,428.6 L328.7,427.7 L329.1,425.6 L329.5,425.1 L330.1,423.9 L330.5,424.9 L330.9,426.0 L331.3,427.4 L331.9,425.6 L332.4,425.1 L332.6,424.3 L332.8,422.6 L333.0,421.6 L333.3,420.7 L333.6,419.2 L334.2,417.3 L334.8,416.9 L335.4,416.7 L335.9,415.1 L336.5,414.1 L337.1,413.4 L337.5,412.8 L337.9,411.5 L338.3,409.9 L338.5,407.7 L338.7,407.2 L338.9,405.2 L339.0,404.1 L339.0,402.8 L339.1,401.3 L339.2,399.4 L339.4,397.4 L339.5,396.4 L339.7,394.7 L340.0,394.0 L340.3,391.5 L340.6,390.5 L341.2,389.4 L341.8,388.6 L342.1,387.4 L342.3,386.3 L342.6,385.5 L342.8,383.9 L343.2,382.3 L343.7,381.2 L344.2,380.1 L344.6,378.1 L344.9,376.2 L345.1,375.8 L345.4,373.9 L345.7,373.4 L346.0,372.5 L346.3,370.6 L346.6,368.6 L346.9,367.5 L347.1,366.5 L347.3,364.1 L347.5,362.9 L347.7,362.3 L347.9,360.5 L348.1,358.8 L348.5,360.6 L348.8,360.8 L349.2,362.9 L349.8,361.9 L350.4,361.7 L350.4,360.7 L350.5,359.5 L350.5,357.0 L350.6,355.5 L350.6,354.5 L350.7,352.8 L350.7,351.4 L350.8,350.1 L350.8,349.0 L350.9,347.8 L350.9,345.2 L351.0,344.4 L351.1,342.6 L351.2,341.5 L351.3,339.6 L351.4,339.3 L351.5,337.1 L351.6,336.2 L351.8,338.2 L351.9,338.9 L352.1,340.9 L352.2,342.1 L352.5,340.8 L352.8,339.0 L353.1,337.7 L353.4,336.2 L353.7,335.6 L353.9,334.5 L354.2,332.5 L354.5,331.5 L354.7,330.6 L354.9,329.9 L355.1,328.0 L355.3,326.2 L355.5,325.5 L355.7,322.9 L355.9,322.2 L356.1,320.6 L356.4,319.5 L356.6,318.4 L356.9,317.5 L357.4,319.2 L357.8,319.3 L359.2,319.9 L359.6,318.1 L360.1,317.5 L360.4,315.6 L360.7,315.5 L361.0,314.0 L361.2,312.5 L361.5,311.1 L361.6,312.6 L361.8,313.8 L362.0,314.6 L362.1,316.4 L362.2,318.3 L362.4,319.9 L362.6,321.5 L362.7,322.2 L363.3,322.5 L363.9,323.4 L364.3,325.0 L364.6,326.3 L365.0,326.9 L365.2,327.8 L365.4,330.2 L365.6,331.5 L366.2,332.7 L366.8,333.9 L367.4,334.2 L368.0,335.0 L368.6,335.3 L369.1,336.2 L369.4,337.7 L369.7,338.0 L370.0,339.9 L370.3,340.9 L370.4,341.8 L370.6,344.2 L370.8,345.1 L370.9,346.7 L371.0,347.5 L371.1,349.6 L371.3,350.8 L371.4,352.4 L371.5,354.0 L371.7,356.1 L371.8,356.3 L372.0,357.7 L372.1,360.5 L372.3,361.5 L372.4,362.7 L372.6,364.0 L373.1,365.2 L373.5,366.7 L373.9,369.2 L374.4,369.9 L374.8,371.3 L375.2,372.9 L375.6,373.4 L375.9,374.6 L376.2,377.0 L376.5,378.8 L376.7,379.3 L377.0,380.5 L377.3,382.7 L377.7,384.2 L378.0,385.1 L378.4,386.5 L378.7,388.4 L379.1,389.8 L379.3,390.7 L379.5,391.9 L379.6,394.5 L379.8,395.6 L380.0,396.8 L380.2,397.1 L380.4,398.4 L380.6,400.0 L380.9,401.6 L381.2,402.7 L381.5,403.3 L381.8,405.7 L382.1,406.7 L382.4,407.4 L382.8,409.7 L383.1,410.6 L383.4,412.7 L383.8,413.5 L384.1,414.8 L384.5,416.1 L384.8,418.0 L385.1,418.8 L385.5,420.5 L385.9,421.5 L386.2,422.9 L386.6,424.4 L387.0,426.3 L387.4,427.1 L387.8,428.0 L388.2,429.6 L388.9,431.1 L389.5,431.4 L390.2,432.3 L391.1,432.9 L392.0,434.3 L392.9,435.0 L393.8,436.5 L394.7,436.6 L395.6,437.7 L396.5,439.2 L397.4,439.7 L398.3,440.4 L399.4,440.9 L400.5,441.5 L401.6,442.4 L403.0,442.8 L404.3,443.1 L405.3,444.1 L406.3,445.1 L407.2,445.8 L408.1,446.4 L409.0,447.1 L410.5,447.6 L412.0,448.0" stroke="#0a0a0a" stroke-width="1.9" fill="none" stroke-linejoin="round"/>
<path d="M328.0,447.6 L338.6,447.4 L338.9,442.3 L347.5,442.3 L349.4,439.4 L351.1,437.4 L352.2,434.2 L354.3,432.6 L355.9,429.3 L357.5,426.1 L359.7,421.8 L361.3,415.4 L362.9,411.1 L364.5,405.7 L366.1,400.4 L367.5,396.5 L368.5,395.6 L370.3,389.8 L371.5,382.7 L372.6,376.9 L374.4,374.6 L376.1,371.1 L377.9,366.4 L378.8,360.0 L379.7,356.8 L381.7,355.8 L383.2,350.9 L384.6,350.0 L385.6,347.0 L386.6,342.2 L387.5,343.1 L388.5,346.1 L389.5,338.3 L390.5,341.2 L391.4,337.3 L392.4,334.4 L393.2,329.5 L393.9,334.4 L394.4,336.3 L394.9,342.2 L395.8,338.3 L396.8,341.2 L397.3,336.3 L398.3,335.3 L399.2,338.3 L400.2,340.2 L401.2,341.2 L402.7,342.2 L404.1,341.2 L405.6,341.2 L406.5,344.1 L407.0,349.0 L407.7,355.0 L409.8,362.0 L411.0,369.0 L411.6,376.1 L412.2,381.9 L413.9,383.1 L415.1,388.9 L416.8,394.8 L418.6,401.8 L420.5,408.1 L421.8,416.2 L423.2,421.5 L425.2,426.9 L426.5,432.3 L428.5,436.3 L430.6,439.0 L432.6,441.7 L434.6,444.4 L437.3,445.8 L442.0,447.5" stroke="#1e1e1e" stroke-width="1.25" fill="none" stroke-linejoin="round"/>
<path d="M325.0,447.6 L338.6,447.5 L338.9,443.9 L348.9,443.9 L352.2,442.2 L354.3,439.0 L355.9,435.8 L357.5,431.5 L359.7,429.3 L361.8,429.3 L363.4,425.0 L365.0,421.8 L367.2,417.5 L368.3,413.2 L370.4,409.0 L372.0,404.7 L374.2,400.4 L375.8,395.0 L377.3,392.0 L379.0,388.0 L380.0,382.0 L382.3,378.4 L384.7,374.9 L387.0,367.9 L388.8,362.0 L390.5,358.7 L391.4,355.8 L392.4,351.9 L393.4,346.1 L394.9,340.2 L396.3,348.0 L397.3,342.2 L398.3,337.3 L399.2,341.2 L400.2,345.1 L401.2,349.0 L402.2,352.9 L403.6,353.9 L405.1,350.9 L406.1,352.9 L407.5,351.9 L408.5,350.0 L409.5,351.9 L410.4,356.8 L411.2,360.0 L412.7,362.0 L414.5,370.2 L415.7,377.2 L416.8,378.4 L417.4,384.2 L418.0,390.1 L419.2,395.9 L420.4,401.8 L422.1,407.6 L423.5,411.0 L424.5,417.5 L425.2,424.2 L427.9,431.0 L429.9,436.3 L431.9,439.0 L433.9,441.7 L435.9,443.1 L438.6,444.4 L443.0,447.0" stroke="#1e1e1e" stroke-width="1.25" fill="none" stroke-linejoin="round"/>
<path d="M350.0,448.0 L361.8,447.6 L368.3,446.5 L371.5,444.4 L374.7,442.2 L377.9,441.1 L380.1,439.5 L383.5,437.0 L387.5,435.0 L390.2,432.3 L392.2,428.3 L394.2,424.2 L396.2,418.8 L397.5,414.6 L399.3,410.0 L401.1,405.3 L403.4,401.8 L404.6,395.9 L405.7,390.1 L406.9,384.2 L408.1,378.4 L409.8,373.7 L411.6,366.7 L413.3,362.0 L414.9,357.6 L416.1,352.9 L417.3,351.7 L418.4,349.4 L419.0,343.6 L420.2,336.5 L421.4,334.8 L422.5,337.7 L423.7,342.4 L424.9,342.4 L426.0,336.5 L427.2,332.5 L428.4,335.4 L429.5,343.6 L430.1,350.6 L431.3,354.1 L433.0,356.4 L434.8,360.0 L436.1,368.0 L437.9,372.3 L439.6,368.8 L441.4,382.8 L444.0,391.6 L446.7,400.4 L449.3,407.4 L451.1,414.4 L452.8,421.4 L454.6,426.7 L457.2,429.3 L459.0,433.7 L461.6,439.0 L465.1,442.5 L468.6,446.0 L472.1,447.4 L476.0,448.0" stroke="#1e1e1e" stroke-width="1.25" fill="none" stroke-linejoin="round"/>
<text transform="translate(117.8,105.8) scale(1.12,1.17)" text-anchor="middle" class="nl">4</text>
<text transform="translate(148.1,98.8) scale(1.12,1.04)" text-anchor="middle" class="nl">3</text>
<text transform="translate(163.8,86.7) scale(1.12,1.04)" text-anchor="middle" class="nl">2</text>
<path d="M178.1,66.7 L180.6,65.1 V73.6 M178.2,73.6 H183.0" stroke="#000" stroke-width="1.9" fill="none"/>
<path d="M332.5,100.7 L334.8,99.1 V107.6 M332.6,107.6 H336.9" stroke="#000" stroke-width="1.9" fill="none"/>
<text transform="translate(362.4,113.6) scale(1.12,1.17)" text-anchor="middle" class="nl">4</text>
<text transform="translate(384.1,117.0) scale(1.12,1.04)" text-anchor="middle" class="nl">3</text>
<text transform="translate(404.3,95.2) scale(1.12,1.04)" text-anchor="middle" class="nl">2</text>
<text transform="translate(118.8,344.9) scale(1.12,1.17)" text-anchor="middle" class="nl">4</text>
<text transform="translate(143.1,303.1) scale(1.12,1.04)" text-anchor="middle" class="nl">3</text>
<text transform="translate(164.9,288.6) scale(1.12,1.04)" text-anchor="middle" class="nl">2</text>
<path d="M179.2,263.5 L181.6,261.9 V269.6 M179.3,269.6 H183.9" stroke="#000" stroke-width="1.9" fill="none"/>
<text transform="translate(358.4,302.8) scale(1.12,1.17)" text-anchor="middle" class="nl">4</text>
<text transform="translate(390.7,321.7) scale(1.12,1.04)" text-anchor="middle" class="nl">3</text>
<text transform="translate(406.8,335.3) scale(1.12,1.04)" text-anchor="middle" class="nl">2</text>
<path d="M423.3,314.9 L425.8,313.3 V322.2 M423.4,322.2 H428.1" stroke="#000" stroke-width="1.9" fill="none"/>
<path d="M255,25.8 V15.4 L259.6,11.2 L264.2,15.4 V25.8 M255,19.9 H264.2" stroke="#000" fill="none" stroke-linejoin="round" stroke-width="2.4"/>
<path d="M501.2,12 H507.8 L510,14.3 V16.7 L508.2,18.6 L510,20.6 V23.6 L507.8,25.6 H501.2 Z M501.2,18.6 H508" stroke="#000" fill="none" stroke-linejoin="miter" stroke-width="2.8"/>
<path d="M266.3,253.4 L264.6,251.6 H259.8 L258,253.6 V263 L259.8,265 H264.6 L266.3,263.3" stroke="#000" fill="none" stroke-linejoin="miter" stroke-width="2.7"/>
<path d="M500.4,251.4 H505.2 L508.6,256 V260 L505.2,264.6 H500.4 Z" stroke="#000" fill="none" stroke-linejoin="miter" stroke-width="2.7"/>
<text class="big" transform="translate(14.1,154.8) rotate(-90)" letter-spacing="0.45">Cells</text>
<text class="big" transform="translate(14.1,220.6) rotate(-90)">of</text>
<text class="big" transform="translate(14.1,321.2) rotate(-90)" letter-spacing="0.5">Number</text>
<text class="big" x="180.2" y="505.8" letter-spacing="0.6">Fluorescence</text>
<text class="big" x="346.6" y="506.8" letter-spacing="0.28">Intensity</text>
</svg>
</body></html>
